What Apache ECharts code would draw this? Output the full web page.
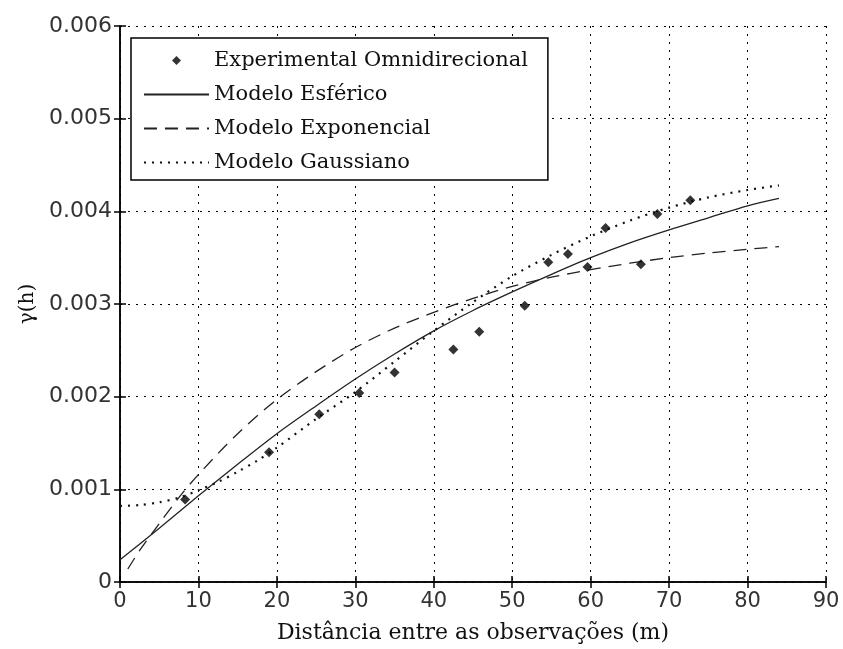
<!DOCTYPE html>
<html>
<head>
<meta charset="utf-8">
<script src="https://cdn.jsdelivr.net/npm/echarts@6/dist/echarts.min.js"></script>
<style>
  html, body { margin: 0; padding: 0; background: #fff; }
  #chart { width: 843px; height: 649px; }
</style>
</head>
<body>
<div id="chart"></div>
<script>
// experimental semivariogram points
const expDist = [8.3, 19.0, 25.4, 30.5, 35.0, 42.5, 45.8, 51.6, 54.6, 57.1, 59.6, 61.9, 66.4, 68.5, 72.7];
const expGamma = [0.00089, 0.00140, 0.00181, 0.00204, 0.00226, 0.00251, 0.00270, 0.00298, 0.00345, 0.00354, 0.00340, 0.00382, 0.00343, 0.00397, 0.00412];

// fitted models
const sphDist = [0, 5, 10, 15, 20, 25, 30, 35, 40, 45, 50, 55, 60, 65, 70, 75, 80, 84];
const sphGamma = [0.00024, 0.00058, 0.00093, 0.00127, 0.00160, 0.00190, 0.00219, 0.00246, 0.00271, 0.00293, 0.00313, 0.00332, 0.00350, 0.00366, 0.00380, 0.00393, 0.00406, 0.00414];

const expoDist = [1, 2.5, 5, 7.5, 10, 15, 20, 25, 30, 35, 40, 45, 50, 55, 60, 65, 70, 75, 80, 84];
const expoGamma = [0.00014, 0.00034, 0.00063, 0.00091, 0.00116, 0.00160, 0.00197, 0.00227, 0.00253, 0.00274, 0.00291, 0.00306, 0.00319, 0.00329, 0.00337, 0.00344, 0.00350, 0.00355, 0.00359, 0.00362];

const gauDist = [0, 2.5, 5, 7.5, 10, 12.5, 15, 17.5, 20, 25, 30, 35, 40, 45, 50, 55, 60, 65, 70, 75, 80, 84];
const gauGamma = [0.00082, 0.00083, 0.00086, 0.00091, 0.00099, 0.00108, 0.00119, 0.00131, 0.00145, 0.00176, 0.00205, 0.00238, 0.00271, 0.00302, 0.00330, 0.00353, 0.00373, 0.00390, 0.00404, 0.00415, 0.00423, 0.00428];

const seriesNames = ['Experimental Omnidirecional', 'Modelo Esférico', 'Modelo Exponencial', 'Modelo Gaussiano'];

const zip = (xs, ys) => xs.map((x, i) => [x, ys[i]]);

const chart = echarts.init(document.getElementById('chart'));

const boxAxis = {
  axisLine: { show: true, lineStyle: { color: '#000', width: 1.5 } },
  axisTick: { show: true, inside: true, length: 6, lineStyle: { color: '#000', width: 1.5 } },
  splitLine: { show: false },
  axisLabel: { show: false }
};

// small diamond centred in a 65x14 box, so the legend does not stretch it
const diamondIcon = 'path://M0,0 M65,14 M32.5,2.5 L37,7 L32.5,11.5 L28,7 Z';

chart.setOption({
  animation: false,
  grid: { left: 120, right: 17, top: 26, bottom: 64 },
  legend: {
    orient: 'vertical',
    left: 131,
    top: 38,
    padding: [12, 20, 7, 12],
    itemGap: 13,
    itemWidth: 65,
    itemHeight: 14,
    backgroundColor: '#fff',
    borderColor: '#000',
    borderWidth: 1.5,
    textStyle: { fontFamily: 'DejaVu Serif', fontSize: 21, color: '#111' },
    data: [
      { name: seriesNames[0], icon: diamondIcon },
      { name: seriesNames[1], itemStyle: { opacity: 0 } },
      { name: seriesNames[2], itemStyle: { opacity: 0 } },
      { name: seriesNames[3], itemStyle: { opacity: 0 } }
    ]
  },
  xAxis: [
    {
      type: 'value', min: 0, max: 90, interval: 10,
      name: 'Distância entre as observações (m)',
      nameLocation: 'middle', nameGap: 40,
      nameTextStyle: { fontFamily: 'DejaVu Serif', fontSize: 22, color: '#111' },
      axisLine: { lineStyle: { color: '#000', width: 1.5 } },
      axisTick: { inside: true, length: 6, lineStyle: { color: '#000', width: 1.5 } },
      axisLabel: { fontFamily: 'DejaVu Sans', fontSize: 21, color: '#333', margin: 9 },
      splitLine: { show: true, lineStyle: { color: '#000', type: [2, 6], width: 1 } }
    },
    Object.assign({ type: 'value', min: 0, max: 90, interval: 10, position: 'top' }, boxAxis)
  ],
  yAxis: [
    {
      type: 'value', min: 0, max: 0.006, interval: 0.001,
      name: 'γ(h)',
      nameLocation: 'middle', nameGap: 82,
      nameTextStyle: { fontFamily: 'DejaVu Serif', fontSize: 20, color: '#111' },
      axisLine: { show: true, lineStyle: { color: '#000', width: 1.5 } },
      axisTick: { show: true, inside: true, length: 6, lineStyle: { color: '#000', width: 1.5 } },
      axisLabel: { fontFamily: 'DejaVu Sans', fontSize: 22, color: '#333', margin: 8 },
      splitLine: { show: true, lineStyle: { color: '#000', type: [2, 6], width: 1 } }
    },
    Object.assign({ type: 'value', min: 0, max: 0.006, interval: 0.001, position: 'right' }, boxAxis)
  ],
  series: [
    {
      name: seriesNames[0], type: 'scatter',
      data: zip(expDist, expGamma),
      symbol: 'diamond', symbolSize: 10,
      itemStyle: { color: '#000' }, z: 5
    },
    {
      name: seriesNames[1], type: 'line', symbol: 'none', smooth: 0.3,
      data: zip(sphDist, sphGamma),
      itemStyle: { color: '#222' },
      lineStyle: { color: '#222', width: 1.3, type: 'solid' }
    },
    {
      name: seriesNames[2], type: 'line', symbol: 'none', smooth: 0.3,
      data: zip(expoDist, expoGamma),
      itemStyle: { color: '#222' },
      lineStyle: { color: '#222', width: 1.3, type: [13, 8] }
    },
    {
      name: seriesNames[3], type: 'line', symbol: 'none', smooth: 0.3,
      data: zip(gauDist, gauGamma),
      itemStyle: { color: '#111' },
      lineStyle: { color: '#111', width: 2.2, type: [2, 6] }
    }
  ]
});
</script>
</body>
</html>
